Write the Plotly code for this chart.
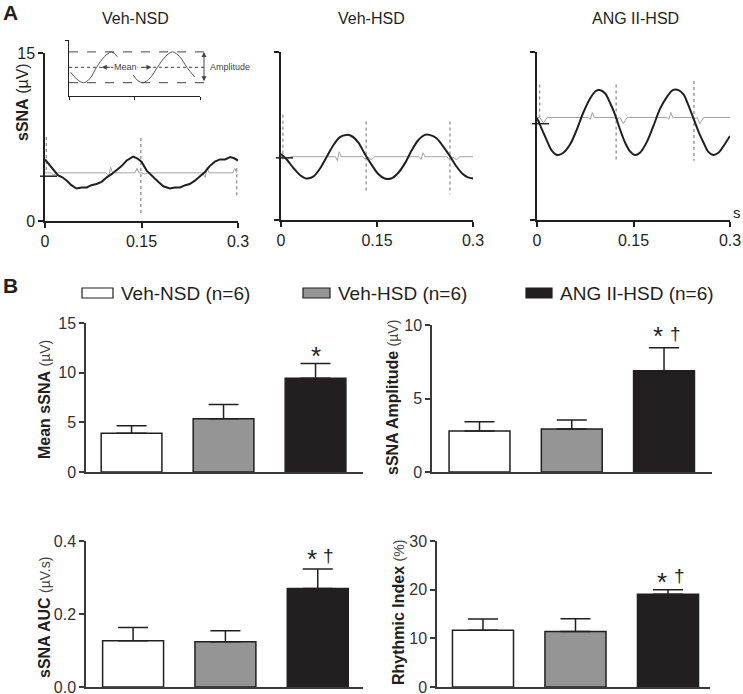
import plotly.graph_objects as go

W, H = 743, 694
FONT = "Liberation Sans, Arial, Helvetica, sans-serif"
INK = "#231f20"
AX = "#3a3a3a"

# ---------------- Panel A: sSNA recordings ----------------
panel_titles = ["Veh-NSD", "Veh-HSD", "ANG II-HSD"]
time_ticks = [0, 0.15, 0.3]
time_ticktext = ["0", "0.15", "0.3"]
ssna_ticks = [0, 15]

nsd_t = [0, 0.007, 0.013, 0.02, 0.027, 0.034, 0.041, 0.049, 0.057, 0.065, 0.072, 0.08, 0.088,
         0.096, 0.104, 0.111, 0.119, 0.127, 0.132, 0.137, 0.143, 0.15, 0.158, 0.168, 0.176,
         0.184, 0.194, 0.202, 0.21, 0.218, 0.225, 0.233, 0.241, 0.249, 0.256, 0.264, 0.272,
         0.28, 0.288, 0.294, 0.3]
nsd_v = [5.5, 5.0, 4.5, 4.1, 3.9, 3.6, 3.2, 2.9, 3.0, 3.0, 3.2, 3.3, 3.5,
         3.9, 4.2, 4.5, 4.9, 5.4, 5.6, 5.75, 5.6, 5.3, 4.5, 3.9, 3.5,
         3.1, 2.9, 3.0, 3.0, 3.2, 3.3, 3.6, 4.0, 4.4, 4.9, 5.3, 5.5,
         5.5, 5.7, 5.6, 5.4]
nsd_ref_t = [0, 0.01, 0.013, 0.02, 0.095, 0.099, 0.102, 0.105, 0.14, 0.143, 0.146, 0.149, 0.155,
             0.16, 0.245, 0.249, 0.252, 0.255, 0.292, 0.295, 0.298]
nsd_ref_v = [4.3, 4.3, 4.1, 4.3, 4.3, 4.0, 4.8, 4.3, 4.3, 4.7, 4.3, 4.3, 4.2,
             4.3, 4.3, 3.9, 4.8, 4.3, 4.3, 4.7, 4.3]
nsd_spike_t = [0.002, 0.149, 0.298]
nsd_spike_hi = [7.5, 7.4, 4.7]
nsd_spike_lo = [4.3, 0.5, 2.3]

hsd_t = [0, 0.009, 0.02, 0.03, 0.04, 0.051, 0.061, 0.072, 0.082, 0.092, 0.102, 0.11, 0.121,
         0.131, 0.142, 0.152, 0.162, 0.172, 0.183, 0.194, 0.204, 0.214, 0.225, 0.232, 0.243,
         0.253, 0.264, 0.274, 0.284, 0.292, 0.3]
hsd_v = [5.9, 5.4, 4.6, 4.0, 3.7, 3.9, 4.6, 5.7, 6.7, 7.4, 7.6, 7.5, 6.9,
         5.9, 4.9, 4.1, 3.7, 3.7, 4.2, 5.1, 6.2, 7.1, 7.6, 7.6, 7.3,
         6.6, 5.7, 4.8, 4.1, 3.8, 3.7]
hsd_ref_t = [0, 0.006, 0.01, 0.015, 0.085, 0.088, 0.091, 0.094, 0.128, 0.131, 0.137, 0.141, 0.146,
             0.215, 0.219, 0.222, 0.225, 0.259, 0.262, 0.27, 0.274, 0.279, 0.3]
hsd_ref_v = [5.65, 5.65, 5.4, 5.65, 5.65, 5.3, 6.1, 5.65, 5.65, 5.45, 5.6, 5.35, 5.65,
             5.65, 5.4, 6.0, 5.65, 5.65, 5.45, 5.6, 5.35, 5.65, 5.65]
hsd_spike_t = [0.003, 0.133, 0.264]
hsd_spike_hi = [9.4, 8.8, 8.8]
hsd_spike_lo = [5.4, 2.4, 2.3]

ang_t = [0, 0.008, 0.016, 0.023, 0.032, 0.041, 0.052, 0.062, 0.072, 0.083, 0.091, 0.097, 0.106,
         0.114, 0.122, 0.129, 0.137, 0.145, 0.152, 0.16, 0.171, 0.181, 0.191, 0.202, 0.211,
         0.22, 0.228, 0.235, 0.243, 0.251, 0.259, 0.266, 0.274, 0.282, 0.291, 0.3]
ang_v = [9.1, 8.05, 7.0, 6.2, 5.8, 6.0, 6.8, 8.1, 9.6, 10.9, 11.5, 11.6, 11.3,
         10.4, 9.3, 8.1, 6.9, 6.1, 5.8, 6.0, 7.0, 8.4, 9.9, 11.0, 11.6,
         11.6, 11.2, 10.3, 9.1, 7.9, 6.9, 6.1, 5.8, 6.0, 6.7, 7.5]
ang_ref_t = [0, 0.004, 0.01, 0.016, 0.08, 0.083, 0.086, 0.089, 0.12, 0.123, 0.129, 0.134, 0.14,
             0.202, 0.205, 0.208, 0.211, 0.241, 0.244, 0.249, 0.253, 0.259, 0.3]
ang_ref_v = [9.15, 9.15, 8.7, 9.15, 9.15, 9.0, 9.6, 9.15, 9.15, 9.0, 9.15, 8.6, 9.15,
             9.15, 9.0, 9.6, 9.15, 9.15, 9.0, 9.15, 8.6, 9.15, 9.15]
ang_spike_t = [0.004, 0.123, 0.244]
ang_spike_hi = [12.1, 12.1, 12.4]
ang_spike_lo = [8.7, 5.2, 5.3]

mean_marks = [4.0, 5.55, 8.6]

# inset schematic
inset_w1_x = [0.025, 0.12, 0.22, 0.32, 0.42, 0.54, 0.65, 0.74]
inset_w1_y = [1.7, 1.2, 0.95, 1.25, 2.05, 2.8, 3.15, 2.8]
inset_w2_x = [0.98, 1.05, 1.13, 1.24, 1.35, 1.47, 1.58, 1.69, 1.80, 1.92]
inset_w2_y = [1.5, 1.1, 0.95, 1.3, 2.05, 2.8, 3.15, 2.8, 2.05, 1.35]
inset_levels = [3.15, 2.05, 0.95]  # max, mean, min

# ---------------- Panel B: bar charts ----------------
groups = ["Veh-NSD (n=6)", "Veh-HSD (n=6)", "ANG II-HSD (n=6)"]
bar_colors = ["#ffffff", "#959595", "#231f20"]

mean_ssna = [3.9, 5.35, 9.45]
mean_ssna_err = [0.76, 1.45, 1.47]
amplitude = [2.79, 2.92, 6.89]
amplitude_err = [0.63, 0.62, 1.57]
auc = [0.127, 0.124, 0.27]
auc_err = [0.036, 0.030, 0.053]
rhythmic = [11.65, 11.4, 19.05]
rhythmic_err = [2.3, 2.6, 0.95]

stars = ["", "", "*"]
daggers_none = ["", "", ""]
daggers = ["", "", "†"]

mean_ticks = [0, 5, 10, 15]
amp_ticks = [0, 5, 10]
auc_ticks = [0, 0.2, 0.4]
rhythm_ticks = [0, 10, 20, 30]

# ---------------- helpers ----------------
def dom_x(a, b):
    return [a / W, b / W]


def dom_y(bottom, top):
    return [1 - bottom / H, 1 - top / H]


def names(i):
    if i == 1:
        return "xaxis", "yaxis", "x", "y"
    return f"xaxis{i}", f"yaxis{i}", f"x{i}", f"y{i}"


def label(text, px, py, size=16, angle=0, xanchor="center", color=INK, **kw):
    return dict(text=text, x=px / W, y=1 - py / H, xref="paper", yref="paper", showarrow=False,
                xanchor=xanchor, yanchor="middle", textangle=angle,
                font=dict(size=size, color=color, family=FONT), **kw)


def unit(u):
    return f"&nbsp;<span style='font-size:14px;color:#444'>{u}</span>"


fig = go.Figure()
layout = {}
shapes = []
annotations = []

# ---------------- Panel A ----------------
top_boxes = [(45, 238, 221, 53), (281, 473, 220, 52), (537, 730, 220, 52)]
title_x = [135, 372, 635]
panels = [
    (nsd_t, nsd_v, nsd_ref_t, nsd_ref_v, nsd_spike_t, nsd_spike_hi, nsd_spike_lo, "linear"),
    (hsd_t, hsd_v, hsd_ref_t, hsd_ref_v, hsd_spike_t, hsd_spike_hi, hsd_spike_lo, "spline"),
    (ang_t, ang_v, ang_ref_t, ang_ref_v, ang_spike_t, ang_spike_hi, ang_spike_lo, "spline"),
]
for i, (box, pdat, title, mk) in enumerate(zip(top_boxes, panels, panel_titles, mean_marks), start=1):
    xk, yk, xr, yr = names(i)
    x0, x1, yb, yt = box
    t, v, rt, rv, st, sh, sl, shape = pdat
    sx, sy = [], []
    for a, hi, lo in zip(st, sh, sl):
        sx += [a, a, None]
        sy += [hi, lo, None]
    fig.add_trace(go.Scatter(x=rt, y=rv, mode="lines", line=dict(color="#a3a3a3", width=1),
                             xaxis=xr, yaxis=yr, showlegend=False, hoverinfo="skip"))
    fig.add_trace(go.Scatter(x=sx, y=sy, mode="lines", line=dict(color="#8f8f8f", width=1.3, dash="dot"),
                             xaxis=xr, yaxis=yr, showlegend=False, hoverinfo="skip", connectgaps=False))
    fig.add_trace(go.Scatter(x=t, y=v, mode="lines", line=dict(color=INK, width=2, shape=shape, smoothing=0.8),
                             xaxis=xr, yaxis=yr, showlegend=False))
    layout[xk] = dict(domain=dom_x(x0, x1), range=[0, 0.3], anchor=yr, showline=True, linecolor=INK,
                      linewidth=1.5, ticks="outside", ticklen=5, tickwidth=1.5, tickcolor=INK,
                      tickvals=time_ticks, ticktext=time_ticktext, showgrid=False, zeroline=False,
                      automargin=False, ticklabeloverflow="allow",
                      tickfont=dict(size=16, color=INK, family=FONT))
    layout[yk] = dict(domain=dom_y(yb, yt), range=[0, 15], anchor=xr, showline=True, linecolor=INK,
                      linewidth=1.5, ticks="outside", ticklen=5, tickwidth=1.5, tickcolor=INK,
                      tickvals=ssna_ticks, showticklabels=(i == 1), showgrid=False, zeroline=False,
                      automargin=False, ticklabeloverflow="allow",
                      tickfont=dict(size=16, color=INK, family=FONT))
    # mean level mark on the y axis
    d0, d1 = dom_y(yb, yt)
    py = d0 + mk / 15 * (d1 - d0)
    shapes.append(dict(type="line", xref="paper", yref="paper", x0=(x0 - 5) / W, x1=(x0 + 12) / W,
                       y0=py, y1=py, line=dict(color=INK, width=1.5)))
    annotations.append(label(title, title_x[i - 1], 18, size=16))

# inset
ib = (69, 200, 96, 40)
ix_rng, iy_rng = [0, 2], [0, 4]
xk, yk, xr, yr = names(4)
layout[xk] = dict(domain=dom_x(ib[0], ib[1]), range=ix_rng, anchor=yr, showline=True, linecolor=INK,
                  linewidth=1.2, ticks="outside", ticklen=3, tickwidth=1, tickcolor=INK, automargin=False,
                  tickvals=[0, 1, 2], showticklabels=False, showgrid=False, zeroline=False)
layout[yk] = dict(domain=dom_y(ib[2], ib[3]), range=iy_rng, anchor=xr, showline=True, linecolor=INK,
                  linewidth=1.2, ticks="outside", ticklen=3, tickwidth=1, tickcolor=INK, automargin=False,
                  tickvals=[4], showticklabels=False, showgrid=False, zeroline=False)
for wx, wy in [(inset_w1_x, inset_w1_y), (inset_w2_x, inset_w2_y)]:
    fig.add_trace(go.Scatter(x=wx, y=wy, mode="lines", line=dict(color="#555", width=1, shape="spline"),
                             xaxis=xr, yaxis=yr, showlegend=False, hoverinfo="skip"))
idy0, idy1 = dom_y(ib[2], ib[3])


def inset_py(v):
    return idy0 + (v - iy_rng[0]) / (iy_rng[1] - iy_rng[0]) * (idy1 - idy0)


def inset_px(v):
    return (ib[0] + (v - ix_rng[0]) / (ix_rng[1] - ix_rng[0]) * (ib[1] - ib[0])) / W


for lv, dsh in zip(inset_levels, ["dash", "dot", "dash"]):
    shapes.append(dict(type="line", xref="paper", yref="paper", x0=ib[0] / W, x1=205 / W,
                       y0=inset_py(lv), y1=inset_py(lv), line=dict(color="#444", width=1, dash=dsh)))
amp_px = (inset_levels[0] - inset_levels[2]) / (iy_rng[1] - iy_rng[0]) * (ib[2] - ib[3])
annotations.append(dict(x=204 / W, y=inset_py(inset_levels[0]), xref="paper", yref="paper", text="",
                        showarrow=True, ax=0, ay=amp_px, arrowside="end+start", arrowhead=2,
                        arrowsize=1, arrowwidth=1, arrowcolor="#444"))
annotations.append(dict(x=208 / W, y=inset_py(inset_levels[1]), xref="paper", yref="paper",
                        text="Amplitude", showarrow=False, xanchor="left", yanchor="middle",
                        font=dict(size=9, color="#444", family=FONT)))
annotations.append(dict(x=inset_px(0.86), y=inset_py(inset_levels[1]), xref="paper", yref="paper",
                        text="Mean", showarrow=False, bgcolor="white", borderpad=0,
                        xanchor="center", yanchor="middle",
                        font=dict(size=9, color="#444", family=FONT)))
annotations.append(dict(x=inset_px(0.50), y=inset_py(inset_levels[1]), xref="paper", yref="paper",
                        text="", showarrow=True, ax=10, ay=0, arrowhead=2, arrowsize=1,
                        arrowwidth=1, arrowcolor="#444"))
annotations.append(dict(x=inset_px(1.26), y=inset_py(inset_levels[1]), xref="paper", yref="paper",
                        text="", showarrow=True, ax=-10, ay=0, arrowhead=2, arrowsize=1,
                        arrowwidth=1, arrowcolor="#444"))

# Panel A labels
annotations.append(label("<b>A</b>", 10, 13, size=21))
annotations.append(label("<b>sSNA</b> (µV)", 22, 102, size=16, angle=-90))
annotations.append(label("s", 737, 213, size=15))

# ---------------- Panel B ----------------
annotations.append(label("<b>B</b>", 10, 285, size=21))
leg_boxes = [(82, 113), (303, 330), (526, 552)]
for (a, b), g, c in zip(leg_boxes, groups, bar_colors):
    shapes.append(dict(type="rect", xref="paper", yref="paper", x0=a / W, x1=b / W,
                       y0=1 - 298 / H, y1=1 - 288 / H, fillcolor=c, line=dict(color=INK, width=1.2)))
    annotations.append(label(g, b + 6, 293, size=19, xanchor="left"))

bar_panels = [
    (mean_ssna, mean_ssna_err, mean_ticks, 15, None, stars, daggers_none,
     (86, 363, 472, 323), (-0.495, 2.516), "<b>Mean sSNA</b>" + unit("(µV)"), (44, 400), 8),
    (amplitude, amplitude_err, amp_ticks, 10, None, stars, daggers,
     (432, 712, 472, 325), (-0.515, 2.52), "<b>sSNA Amplitude</b>" + unit("(µV)"), (393, 398), 12),
    (auc, auc_err, auc_ticks, 0.4, ".1f", stars, daggers,
     (86, 363, 687, 541), (-0.51, 2.49), "<b>sSNA AUC</b>" + unit("(µV.s)"), (44, 618), 10),
    (rhythmic, rhythmic_err, rhythm_ticks, 30, None, stars, daggers,
     (437, 710, 687, 541), (-0.497, 2.454), "<b>Rhythmic Index</b>" + unit("(%)"), (398, 613), 8),
]
for j, (vals, errs, ticks, top, fmt, st, dg, box, xrng, ytitle, tpos, star_dy) in enumerate(bar_panels, start=5):
    xk, yk, xr, yr = names(j)
    fig.add_trace(go.Bar(x=groups, y=vals, width=0.66,
                         marker=dict(color=bar_colors, line=dict(color=INK, width=1.5)),
                         error_y=dict(type="data", array=errs, arrayminus=[0] * len(errs), symmetric=False,
                                      color=INK, thickness=1.5, width=15),
                         xaxis=xr, yaxis=yr, showlegend=False))
    layout[xk] = dict(domain=dom_x(box[0], box[1]), type="category", categoryorder="array",
                      categoryarray=groups, range=list(xrng), anchor=yr, showline=True, linecolor=AX,
                      linewidth=1.5, ticks="", showticklabels=False, showgrid=False, zeroline=False,
                      automargin=False)
    ydict = dict(domain=dom_y(box[2], box[3]), range=[0, top], anchor=xr, showline=True, linecolor=AX,
                 linewidth=1.5, ticks="outside", ticklen=5, tickwidth=1.5, tickcolor=AX,
                 tickvals=ticks, showgrid=False, zeroline=False, automargin=False,
                 ticklabeloverflow="allow",
                 tickfont=dict(size=16, color="#333", family=FONT))
    if fmt:
        ydict["tickformat"] = fmt
    layout[yk] = ydict
    for k, (g, v, e, s, d) in enumerate(zip(groups, vals, errs, st, dg)):
        if s:
            annotations.append(dict(text=s, x=g, y=v + e, xref=xr, yref=yr, showarrow=False,
                                    xanchor="center", yanchor="middle", yshift=star_dy,
                                    xshift=(-6 if d else 0),
                                    font=dict(size=26, color=INK, family=FONT)))
        if d:
            annotations.append(dict(text=d, x=g, y=v + e, xref=xr, yref=yr, showarrow=False,
                                    xanchor="center", yanchor="middle", yshift=14, xshift=11,
                                    font=dict(size=19, color=INK, family=FONT)))
    annotations.append(label(ytitle, tpos[0], tpos[1], size=16, angle=-90))

fig.update_layout(
    template="none",
    width=W, height=H, margin=dict(l=0, r=0, t=0, b=0, autoexpand=False),
    paper_bgcolor="white", plot_bgcolor="rgba(0,0,0,0)", showlegend=False,
    font=dict(family=FONT, color=INK), shapes=shapes, annotations=annotations,
    bargap=0.3, **layout,
)
fig.write_html("out.html", config={"displayModeBar": False},
               post_script="document.body.style.margin='0';document.body.style.overflow='hidden';")
